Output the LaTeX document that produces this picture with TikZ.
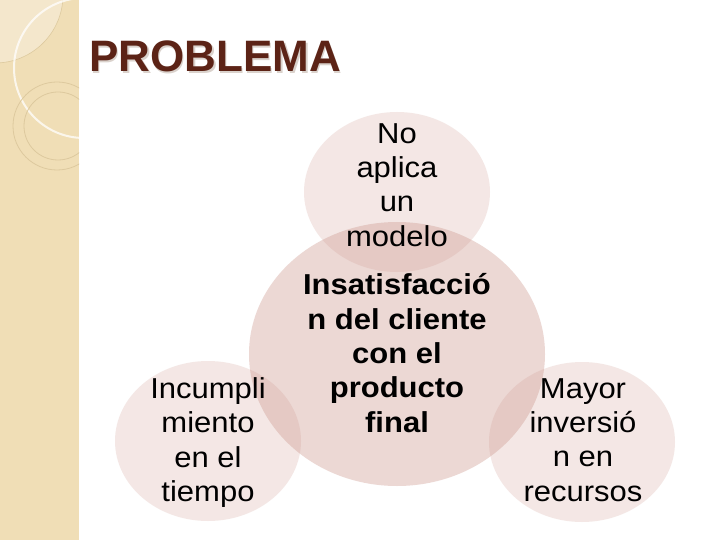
\documentclass[tikz,border=0pt]{standalone}
\usepackage{fontspec}
\setmainfont{Liberation Sans}
\usetikzlibrary{shapes.geometric}
\definecolor{stripc}{RGB}{240,222,182}
\definecolor{stripline}{RGB}{221,201,158}
\definecolor{venn}{RGB}{205,150,140}
\definecolor{titlec}{RGB}{92,35,22}
\definecolor{shadowc}{RGB}{218,210,204}
\begin{document}
\begin{tikzpicture}[x=1pt,y=-1pt,
  bubble/.style={ellipse, draw=none, fill=venn, inner sep=0pt},
  small/.style={bubble, fill opacity=0.22, minimum width=186pt, minimum height=160pt},
  big/.style={bubble, fill opacity=0.37, minimum width=296pt, minimum height=264pt},
  vtext/.style={align=center, inner sep=0pt, font=\fontsize{31}{37}\selectfont, yscale=0.93, transform shape},
  titletext/.style={anchor=base west, inner sep=0pt, font=\fontsize{44}{50}\selectfont\bfseries}]
\useasboundingbox (0,0) rectangle (720,540);
\fill[white] (0,0) rectangle (720,540);
% decorative strip
\fill[stripc] (0,0) rectangle (79,540);
\begin{scope}
  \clip (0,0) rectangle (79,540);
  \fill[white, opacity=0.3] (-5,-5) circle (68);
  \draw[stripline, line width=0.6pt] (-5,-5) circle (68);
  \draw[white, opacity=0.75, line width=2pt] (84,68) circle (70);
  \draw[stripline, line width=0.8pt] (57,126) circle (44);
  \draw[stripline, line width=0.8pt] (58,126) circle (34);
\end{scope}
% title
\node[titletext, text=shadowc] at (90.5,73.5) {PROBLEMA};
\node[titletext, text=titlec] (title) at (89,72) {PROBLEMA};
% venn shapes
\node[big] (center) at (397,354) {};
\node[small] (top) at (397,192) {};
\node[small] (left) at (208,441) {};
\node[small] (right) at (582,442) {};
% texts
\node[vtext] (ttop) at (397,185) {No\\aplica\\un\\modelo};
\node[vtext, font=\fontsize{31}{37}\selectfont\bfseries] (tcenter) at (397,353) {Insatisfacció\\n del cliente\\con el\\producto\\final};
\node[vtext] (tleft) at (208,442.5) {Incumpli\\miento\\en el\\tiempo};
\node[vtext] (tright) at (583,440) {Mayor\\inversió\\n en\\recursos};
\end{tikzpicture}
\end{document}
